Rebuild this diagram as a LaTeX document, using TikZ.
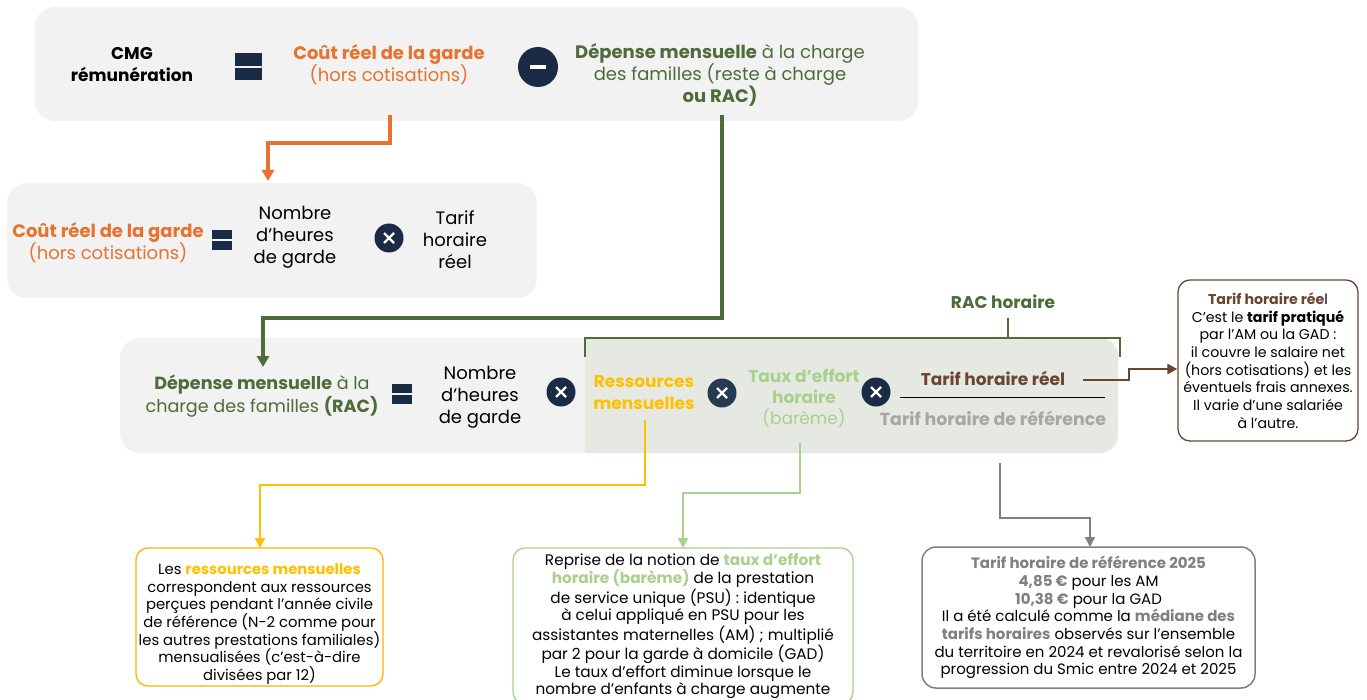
\documentclass[tikz,border=0pt]{standalone}
\usepackage{fontspec}
\setmainfont{Poppins}
\usetikzlibrary{arrows.meta}
\definecolor{panelgray}{HTML}{F2F2F2}
\definecolor{greenbg}{HTML}{E6E9E1}
\definecolor{navy}{HTML}{1C2B45}
\definecolor{navyb}{HTML}{263B52}
\definecolor{orangeC}{HTML}{E8722E}
\definecolor{dgreen}{HTML}{4E6B3A}
\definecolor{yellowC}{HTML}{FFC000}
\definecolor{yborder}{HTML}{FFB300}
\definecolor{lgreen}{HTML}{A9D18E}
\definecolor{brownC}{HTML}{6B4530}
\definecolor{grayC}{HTML}{808080}
\definecolor{lgray}{HTML}{A6A6A6}
\begin{document}
\begin{tikzpicture}[x=1pt,y=-1pt,
  panel/.style={fill=panelgray, rounded corners=20, inner sep=0},
  big/.style={align=center, inner sep=0, font=\fontsize{18}{22}\selectfont},
  small/.style={align=center, inner sep=0, font=\fontsize{#1}{17.7}\selectfont},
  eqicon/.style={fill=navy, inner sep=0, minimum size=#1,
    path picture={\draw[panelgray, line width=1.4] (path picture bounding box.west) -- (path picture bounding box.east);}},
  minusc/.style={circle, fill=navy, inner sep=0, minimum size=40,
    path picture={\draw[white, line width=3.2] ([xshift=-8pt]path picture bounding box.center) -- ([xshift=8pt]path picture bounding box.center);}},
  timesc/.style={circle, fill=navy, inner sep=0, minimum size=29,
    path picture={\draw[white, line width=2.2]
      ([shift={(-5,-5)}]path picture bounding box.center) -- ([shift={(5,5)}]path picture bounding box.center)
      ([shift={(-5,5)}]path picture bounding box.center) -- ([shift={(5,-5)}]path picture bounding box.center);}},
  infobox/.style={draw, rounded corners=12, line width=1.3, inner sep=0, fill=white},
  bigarrow/.style={-{Triangle[length=11pt,width=12pt]}, line width=3.2pt},
  thinarrow/.style={-{Triangle[length=10pt,width=10pt]}, line width=1.6pt}
]
\useasboundingbox (0,0) rectangle (1367,700);
\fill[white] (0,0) rectangle (1367,700);

% panels
\node[panel, minimum width=883, minimum height=114] (top) at (476.5,64) {};
\node[panel, minimum width=530, minimum height=115] (mid) at (272,240.5) {};
\node[panel, minimum width=998, minimum height=115] (bot) at (619,395.5) {};
\fill[greenbg, rounded corners=18] (585,338) rectangle (1118,453);
\fill[greenbg] (585,338) rectangle (630,453);

% top row
\node[big, font=\bfseries\fontsize{17}{22}\selectfont, text=black] (cmg) at (132,65) {CMG\\rémunération};
\node[eqicon=27] (eq1) at (248,67) {};
\node[big, text=orangeC] (cout1) at (389,65) {{\bfseries Coût réel de la garde}\\(hors cotisations)};
\node[minusc] (minus1) at (538,67) {};
\node[big, text=dgreen] (dep1) at (720,75) {{\bfseries Dépense mensuelle} à la charge\\des familles (reste à charge\\{\bfseries ou RAC)}};

% middle row
\node[big, text=orangeC] (cout2) at (108,243) {{\bfseries Coût réel de la garde}\\(hors cotisations)};
\node[eqicon=20] (eq2) at (222,240) {};
\node[big, text=black] (nb2) at (295,237) {Nombre\\d’heures\\de garde};
\node[timesc] (x2) at (389,238) {};
\node[big, text=black] (tarif2) at (455,240) {Tarif\\horaire\\réel};

% bottom row
\node[big, font=\fontsize{17.6}{23}\selectfont, text=dgreen] (dep3) at (262,396) {{\bfseries Dépense mensuelle} à la\\charge des familles {\bfseries (RAC)}};
\node[eqicon=20] (eq3) at (402,394) {};
\node[big, text=black] (nb3) at (480,397) {Nombre\\d’heures\\de garde};
\node[timesc] (x3) at (561,392) {};
\node[big, font=\bfseries\fontsize{17}{22}\selectfont, text=yellowC] (ress) at (644,392.5) {Ressources\\mensuelles};
\node[timesc, fill=navyb] (x4) at (722,393) {};
\node[big, font=\fontsize{17}{21}\selectfont, text=lgreen] (taux) at (804,398) {{\bfseries Taux d’effort}\\{\bfseries horaire}\\(barème)};
\node[timesc] (x5) at (876,392) {};
\node[big, font=\bfseries\fontsize{17}{22}\selectfont, text=brownC] (thr) at (993,378) {Tarif horaire réel};
\coordinate (fracL) at (900,397);
\coordinate (fracR) at (1105,397);
\draw[black, line width=0.9] (fracL) -- (fracR);
\node[big, font=\bfseries\fontsize{17.4}{22}\selectfont, text=lgray] (tref) at (993,418) {Tarif horaire de référence};

% bracket RAC horaire
\node[big, font=\bfseries\fontsize{17}{22}\selectfont, text=dgreen] (rach) at (1003,302) {RAC horaire};
\coordinate (brL) at (585,357);
\coordinate (brR) at (1120,357);
\coordinate (brTop) at (1008,338);
\coordinate (brTick) at (1008,318);
\draw[dgreen, line width=2] (brL) |- (brTop) -| (brR);
\draw[dgreen, line width=2] (brTop) -- (brTick);

% info boxes
\node[infobox, draw=brownC, minimum width=180, minimum height=161, small=14.2] (bbox) at (1268,360.5)
  {{\bfseries\color{brownC}Tarif horaire rée}l\\C’est le {\bfseries tarif pratiqué}\\par l’AM ou la GAD :\\il couvre le salaire net\\(hors cotisations) et les\\éventuels frais annexes.\\Il varie d’une salariée\\à l’autre.};
\node[infobox, draw=yborder, minimum width=247, minimum height=138] (ybox) at (259.5,617) {};
\node[small=14.8] (ytxt) at (259.5,624)
  {Les {\bfseries\color{yellowC}ressources mensuelles}\\correspondent aux ressources\\perçues pendant l’année civile\\de référence (N-2 comme pour\\les autres prestations familiales)\\mensualisées (c’est-à-dire\\divisées par 12)};
\node[infobox, draw=lgreen, minimum width=340, minimum height=156, small=15.3] (gbox) at (683,626)
  {Reprise de la notion de {\bfseries\color{lgreen}taux d’effort}\\{\bfseries\color{lgreen}horaire (barème)} de la prestation\\de service unique (PSU) : identique\\à celui appliqué en PSU pour les\\assistantes maternelles (AM) ; multiplié\\par 2 pour la garde à domicile (GAD)\\Le taux d’effort diminue lorsque le\\nombre d’enfants à charge augmente};
\node[infobox, draw=grayC, line width=1.5, rounded corners=14, minimum width=333, minimum height=141, small=15] (rbox) at (1088.5,617.5)
  {{\bfseries\color{grayC}Tarif horaire de référence 2025}\\{\bfseries\color{grayC}4,85 €} pour les AM\\{\bfseries\color{grayC}10,38 €} pour la GAD\\Il a été calculé comme la {\bfseries\color{grayC}médiane des}\\{\bfseries\color{grayC}tarifs horaires} observés sur l’ensemble\\du territoire en 2024 et revalorisé selon la\\progression du Smic entre 2024 et 2025};

% connectors
\coordinate (oStart) at (390,115);
\coordinate (oEnd) at (268,181);
\draw[bigarrow, orangeC, line width=3.2pt] (oStart) -- ++(0,28) -| (oEnd);
\coordinate (gStart) at (722,115);
\coordinate (gEnd) at (263,367);
\draw[bigarrow, dgreen, line width=3.6pt] (gStart) -- ++(0,203) -| (gEnd);
\coordinate (yStart) at (645,420);
\coordinate (yEnd) at (260,548);
\draw[thinarrow, yellowC] (yStart) -- ++(0,65) -| (yEnd);
\coordinate (lgStart) at (800,443);
\coordinate (lgEnd) at (683,548);
\draw[thinarrow, lgreen] (lgStart) -- ++(0,50) -| (lgEnd);
\coordinate (grStart) at (1000,463);
\coordinate (grEnd) at (1090,547);
\draw[thinarrow, grayC] (grStart) -- ++(0,55) -| (grEnd);
\coordinate (brStart) at (1083,380);
\coordinate (brBend) at (1129,369);
\draw[-{Triangle[length=10pt,width=10pt]}, brownC, line width=2.4pt] (brStart) -| (brBend) -- (bbox.west |- brBend);
\end{tikzpicture}
\end{document}
